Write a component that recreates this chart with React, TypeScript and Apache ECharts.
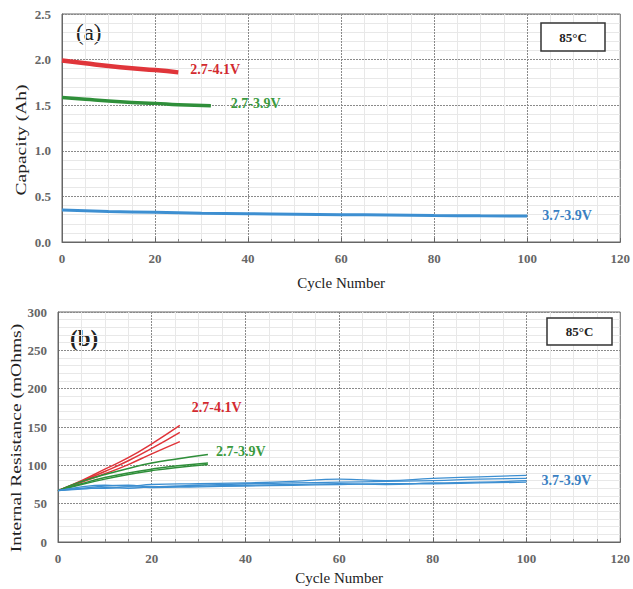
import React, { useEffect, useRef } from "react";
import * as echarts from "echarts";

// ---- Panel (a): Capacity (Ah) vs cycle ----
const capRedX = [0, 5, 10, 15, 20, 25];
const capRedY = [1.99, 1.96, 1.93, 1.905, 1.885, 1.86];
const capGreenX = [0, 5, 10, 15, 20, 25, 32];
const capGreenY = [1.585, 1.565, 1.545, 1.53, 1.52, 1.505, 1.495];
const capBlueX = [0, 10, 20, 30, 40, 50, 60, 70, 80, 90, 100];
const capBlueY = [0.35, 0.335, 0.325, 0.315, 0.31, 0.305, 0.3, 0.295, 0.29, 0.288, 0.285];

// ---- Panel (b): Internal resistance (mOhms) vs cycle ----
const irRedX = [0, 5, 10, 15, 20, 26];
const irRed1 = [67, 80, 95, 110, 128, 152];
const irRed2 = [67, 79, 92, 106, 122, 143];
const irRed3 = [67, 78, 89, 101, 115, 131];
const irGreenX = [0, 5, 10, 15, 20, 25, 32];
const irGreen1 = [67, 79, 88, 96, 103, 108, 114];
const irGreen2 = [67, 76, 84, 90, 95, 99, 103];
const irGreen3 = [67, 75, 82, 88, 93, 97, 101];
const irBlueX = [0, 5, 10, 15, 20, 30, 40, 50, 60, 70, 80, 90, 100];
const irBlue1 = [67, 72, 74, 73, 75, 76, 77, 79, 82, 80, 83, 85, 87];
const irBlue2 = [67, 70, 73, 74, 72, 74, 76, 77, 78, 79, 80, 82, 83];
const irBlue3 = [67, 69, 71, 70, 72, 73, 74, 75, 76, 75, 77, 78, 80];
const irBlue4 = [67, 70, 70, 72, 71, 72, 73, 74, 75, 76, 76, 77, 78];

const voltLabels = ["2.7-4.1V", "2.7-3.9V", "3.7-3.9V"];
const panelTags = ["(a)", "(b)"];
const yNames = ["Capacity (Ah)", "Internal Resistance (mOhms)"];
const tempTag = "85°C";

const RED = "#e0353a";
const GREEN = "#2f8f3a";
const BLUE = "#3d8fd1";
const FONT = "Liberation Serif";

const zip = (xs: number[], ys: number[]) => xs.map((x, i) => [x, ys[i]]);

export default function App() {
  const ref = useRef<HTMLDivElement>(null);
  useEffect(() => {
    document.body.style.margin = "0";
    const chart = echarts.init(ref.current!, null, { renderer: "svg" });

    const tickLabel = { fontFamily: FONT, fontSize: 13, fontWeight: "bold" as const, color: "#666" };

    const xAxisBase = (gridIndex: number) => ({
      type: "value" as const,
      gridIndex,
      min: 0,
      max: 120,
      interval: 20,
      name: "Cycle Number",
      nameLocation: "middle" as const,
      nameGap: gridIndex === 0 ? 33 : 28,
      nameTextStyle: { fontFamily: FONT, fontSize: 15, color: "#222" },
      axisLine: { show: true, lineStyle: { color: "#666" } },
      axisTick: { show: true, inside: true, length: 4, lineStyle: { color: "#666" } },
      minorTick: { show: true, splitNumber: 4, length: 3, lineStyle: { color: "#888" } },
      axisLabel: { ...tickLabel, margin: 10 },
      splitLine: { show: true, lineStyle: { color: "#8a8a8a", type: [2, 1] as any, width: 1 } },
      minorSplitLine: { show: true, lineStyle: { color: "#e8e8e8", width: 1 } },
    });

    const yAxisBase = (gridIndex: number, max: number, interval: number, dec: number) => ({
      type: "value" as const,
      gridIndex,
      min: 0,
      max,
      interval,
      axisLine: { show: true, lineStyle: { color: "#666" } },
      axisTick: { show: false },
      axisLabel: {
        ...tickLabel,
        margin: 11,
        formatter: (v: number) => v.toFixed(dec),
      },
      splitLine: { show: true, lineStyle: { color: "#8a8a8a", type: [2, 1] as any } },
      minorTick: { show: false, splitNumber: 5 },
      minorSplitLine: { show: true, lineStyle: { color: "#e8e8e8" } },
    });

    const lineSeries = (
      xi: number,
      data: number[][],
      color: string,
      width: number,
      endLabel?: any
    ) => ({
      type: "line" as const,
      xAxisIndex: xi,
      yAxisIndex: xi,
      data,
      smooth: true,
      showSymbol: false,
      symbol: "none",
      lineStyle: { color, width },
      z: 5,
      endLabel: endLabel
        ? {
            show: true,
            formatter: endLabel.text,
            color: endLabel.color,
            fontFamily: FONT,
            fontWeight: "bold",
            fontSize: 14,
            distance: endLabel.distance ?? 10,
            offset: endLabel.offset ?? [0, 0],
          }
        : undefined,
    });

    const vName = (text: string, x: number, y: number) => ({
      type: "text",
      x,
      y,
      rotation: Math.PI / 2,
      scaleX: 1.3,
      style: {
        text,
        fontFamily: FONT,
        fontSize: 15,
        fill: "#222",
        align: "center",
        verticalAlign: "middle",
      },
    });

    const tempBox = (x: number, y: number, w: number, h: number) => [
      {
        type: "rect",
        shape: { x, y, width: w, height: h },
        style: { fill: "#fff", stroke: "#333", lineWidth: 1.5 },
        z: 10,
      },
      {
        type: "text",
        x: x + w / 2,
        y: y + h / 2,
        style: {
          text: tempTag,
          fontFamily: FONT,
          fontSize: 13,
          fontWeight: "bold",
          fill: "#222",
          align: "center",
          verticalAlign: "middle",
        },
        z: 11,
      },
    ];

    chart.setOption({
      animation: false,
      backgroundColor: "#fff",
      grid: [
        { left: 62, top: 14, width: 560, height: 228, show: true, borderColor: "#666", borderWidth: 1 },
        { left: 58, top: 312, width: 565, height: 230, show: true, borderColor: "#666", borderWidth: 1 },
      ],
      xAxis: [xAxisBase(0), xAxisBase(1)],
      yAxis: [yAxisBase(0, 2.5, 0.5, 1), yAxisBase(1, 300, 50, 0)],
      series: [
        lineSeries(0, zip(capRedX, capRedY), RED, 4.5, { text: voltLabels[0], color: "#d32a2f", distance: 12, offset: [0, -3] }),
        lineSeries(0, zip(capGreenX, capGreenY), GREEN, 3.5, { text: voltLabels[1], color: "#3a9a3e", distance: 20, offset: [0, -2] }),
        lineSeries(0, zip(capBlueX, capBlueY), BLUE, 3, { text: voltLabels[2], color: "#3a80c2", distance: 15, offset: [0, -1] }),
        lineSeries(1, zip(irRedX, irRed1), RED, 1.5, { text: voltLabels[0], color: "#d32a2f", distance: 12, offset: [0, -18] }),
        lineSeries(1, zip(irRedX, irRed2), RED, 1.5),
        lineSeries(1, zip(irRedX, irRed3), RED, 1.5),
        lineSeries(1, zip(irGreenX, irGreen1), GREEN, 1.5, { text: voltLabels[1], color: "#3a9a3e", distance: 8, offset: [0, -3] }),
        lineSeries(1, zip(irGreenX, irGreen2), GREEN, 1.5),
        lineSeries(1, zip(irGreenX, irGreen3), GREEN, 1.5),
        lineSeries(1, zip(irBlueX, irBlue1), BLUE, 1.3),
        lineSeries(1, zip(irBlueX, irBlue2), BLUE, 1.3),
        lineSeries(1, zip(irBlueX, irBlue3), BLUE, 1.3, { text: voltLabels[2], color: "#3a80c2", distance: 15, offset: [0, 0] }),
        lineSeries(1, zip(irBlueX, irBlue4), BLUE, 1.3),
      ],
      graphic: [
        {
          type: "text",
          left: 76,
          top: 21,
          style: { text: panelTags[0], fontFamily: FONT, fontSize: 23, fill: "#222" },
        },
        {
          type: "text",
          left: 70,
          top: 327,
          style: { text: panelTags[1], fontFamily: FONT, fontSize: 23, fontWeight: "bold", fill: "#222" },
        },
        vName(yNames[0], 21, 140),
        vName(yNames[1], 16, 438),
        ...tempBox(541, 23, 64, 28),
        ...tempBox(547, 318, 65, 27),
      ],
    });
    return () => chart.dispose();
  }, []);
  return <div ref={ref} style={{ width: 633, height: 589 }} />;
}
